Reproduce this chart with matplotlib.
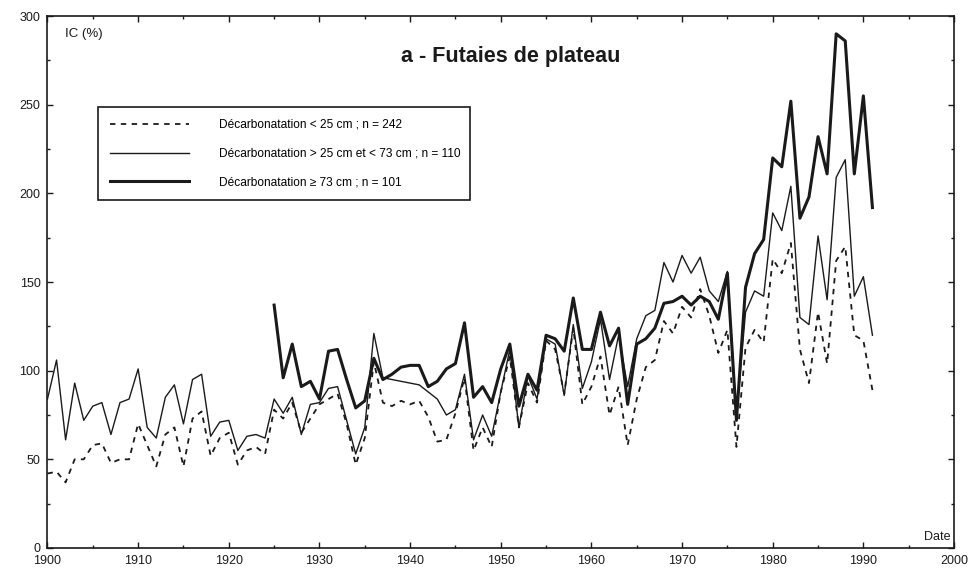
import matplotlib
matplotlib.use('Agg')
import matplotlib.pyplot as plt
from matplotlib.ticker import MultipleLocator

plt.rcParams['font.family'] = ['Liberation Sans', 'DejaVu Sans']

# IC (%) per year
years = list(range(1900, 1992))
years_thick = list(range(1925, 1992))

ic_lt25 = [42, 43, 37, 50, 50, 58, 59, 48, 50, 50,
           70, 58, 46, 64, 68, 46, 73, 77, 52, 62,
           65, 47, 55, 57, 53, 78, 73, 82, 65, 73,
           81, 84, 87, 70, 47, 62, 105, 82, 80, 83,
           81, 83, 74, 60, 61, 76, 96, 55, 68, 57,
           88, 108, 68, 93, 82, 117, 112, 87, 124, 81,
           91, 108, 75, 91, 58, 84, 102, 106, 128, 121,
           136, 130, 146, 131, 110, 123, 57, 113, 123, 116,
           163, 155, 172, 112, 93, 133, 104, 162, 170, 120,
           117, 89]

ic_25_73 = [84, 106, 61, 93, 72, 80, 82, 64, 82, 84,
            101, 68, 62, 85, 92, 70, 95, 98, 63, 71,
            72, 55, 63, 64, 62, 84, 76, 85, 64, 81,
            82, 90, 91, 72, 53, 68, 121, 96, 95, 94,
            93, 92, 88, 84, 75, 78, 98, 61, 75, 63,
            88, 112, 68, 97, 84, 118, 115, 86, 126, 90,
            105, 129, 95, 120, 91, 118, 131, 134, 161, 150,
            165, 155, 164, 145, 139, 156, 74, 133, 145, 142,
            189, 179, 204, 130, 126, 176, 140, 209, 219, 142,
            153, 120]

ic_ge73 = [137, 96, 115, 91, 94,
           84, 111, 112, 95, 79, 83, 107, 95, 98, 102,
           103, 103, 91, 94, 101, 104, 127, 85, 91, 82,
           101, 115, 80, 98, 89, 120, 118, 111, 141, 112,
           112, 133, 114, 124, 81, 115, 118, 124, 138, 139,
           142, 137, 142, 139, 129, 155, 72, 147, 166, 174,
           220, 215, 252, 186, 198, 232, 211, 290, 286, 211,
           255, 192]

labels = ['Décarbonatation < 25 cm ; n = 242',
          'Décarbonatation > 25 cm et < 73 cm ; n = 110',
          'Décarbonatation ≥ 73 cm ; n = 101']

fig = plt.figure(figsize=(9.73, 5.75), dpi=100, facecolor='white')
ax = fig.add_axes([0.0488, 0.047, 0.9317, 0.925])

ink = '#1a1a1a'
ax.plot(years, ic_lt25, color=ink, lw=1.3, linestyle=(0, (3, 3)), label=labels[0])
ax.plot(years, ic_25_73, color=ink, lw=1.0, label=labels[1])
ax.plot(years_thick, ic_ge73, color=ink, lw=2.2, label=labels[2])

ax.set_xlim(1900, 2000)
ax.set_ylim(0, 300)
ax.xaxis.set_major_locator(MultipleLocator(10))
ax.xaxis.set_minor_locator(MultipleLocator(5))
ax.yaxis.set_major_locator(MultipleLocator(50))
ax.yaxis.set_minor_locator(MultipleLocator(25))
ax.tick_params(which='both', direction='in', top=True, right=True,
               colors=ink, labelsize=9, width=1)
ax.tick_params(which='major', length=4, pad=5)
ax.tick_params(which='minor', length=2.5)
for s in ax.spines.values():
    s.set_linewidth(1.2)
    s.set_color(ink)

ax.text(0.019, 0.966, 'IC (%)', transform=ax.transAxes, fontsize=9.5,
        ha='left', va='center', color=ink)
ax.text(0.981, 0.021, 'Date', transform=ax.transAxes, fontsize=9,
        ha='center', va='center', color=ink)
ax.text(0.5105, 0.924, 'a - Futaies de plateau', transform=ax.transAxes,
        fontsize=15.5, fontweight='bold', ha='center', va='center', color=ink)

leg = ax.legend(loc='upper left', bbox_to_anchor=(0.0557, 0.829, 0.4105, 0.0),
                mode='expand', borderaxespad=0, fontsize=8.6, handlelength=6.6,
                handletextpad=2.5, labelspacing=1.4, borderpad=1.0,
                fancybox=False, edgecolor=ink, framealpha=1)
leg.get_frame().set_linewidth(1.2)

fig.savefig('out.png', dpi=100, facecolor='white')
